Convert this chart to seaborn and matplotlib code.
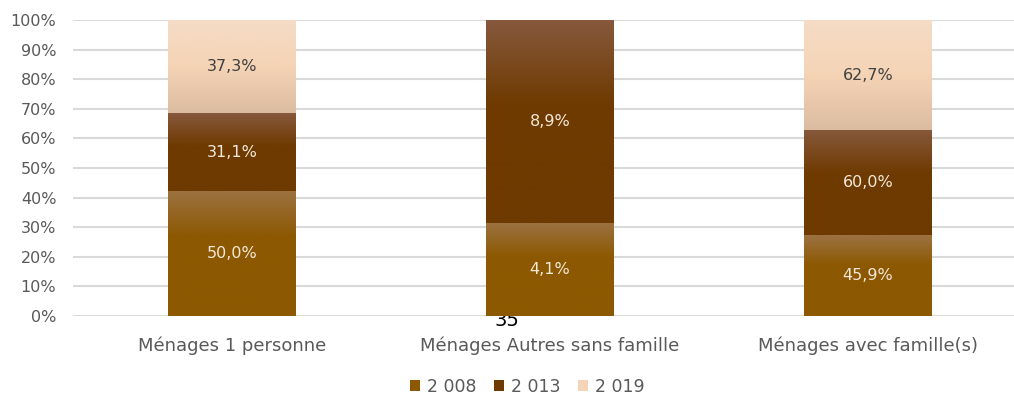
import numpy as np
import pandas as pd
import matplotlib
matplotlib.use("Agg")
import matplotlib.pyplot as plt
import seaborn as sns
from matplotlib.colors import LinearSegmentedColormap
from matplotlib.patches import Patch

#------------------------------- DATA ---------------------------------
categories = ["Ménages 1 personne", "Ménages Autres sans famille", "Ménages avec famille(s)"]
years = ["2 008", "2 013", "2 019"]
v2008 = [50.0, 4.1, 45.9]
v2013 = [31.1, 8.9, 60.0]
v2019 = [37.3, 0.0, 62.7]

df = pd.DataFrame({"cat": categories, "2 008": v2008, "2 013": v2013, "2 019": v2019})
totals = df[years].sum(axis=1)
shares = df[years].div(totals, axis=0) * 100

#------------------------------- STYLE --------------------------------
sns.set_style("white")
plt.rcParams["font.family"] = ["DejaVu Sans"]

base_cols = {"2 008": "#8c5800", "2 013": "#6e3a00", "2 019": "#f5d5b8"}
# gradient stops (top -> bottom) for each series
grads = {
    "2 008": [(0.0, "#9c7242"), (0.38, "#8c5800"), (1.0, "#8c5800")],
    "2 013": [(0.0, "#87593d"), (0.42, "#6e3a00"), (1.0, "#6e3a00")],
    "2 019": [(0.0, "#f5dcc6"), (0.5, "#f5d4b6"), (1.0, "#dcbca0")],
}
label_cols = {"2 008": "#f3e8da", "2 013": "#f3e8da", "2 019": "#404040"}

fig = plt.figure(figsize=(10.14, 3.96), dpi=100)
ax = fig.add_axes([73 / 1014, 1 - 316 / 396, 1 - 73 / 1014, (316 - 20) / 396])
ax.set_facecolor("white")

#------------------------------- BARS ---------------------------------
bottom = np.zeros(len(categories))
for yr in years:
    n_before = len(ax.patches)
    sns.barplot(x=df["cat"], y=shares[yr].values, bottom=bottom, color=base_cols[yr],
                width=0.4, ax=ax, zorder=3, linewidth=0)
    new_patches = ax.patches[n_before:]
    cmap = LinearSegmentedColormap.from_list(yr, grads[yr])
    grad = np.linspace(0, 1, 256).reshape(-1, 1)
    for p, val, sh in zip(new_patches, df[yr], shares[yr]):
        if sh <= 0:
            continue
        x0, y0 = p.get_x(), p.get_y()
        w, h = p.get_width(), p.get_height()
        im = ax.imshow(grad, cmap=cmap, aspect="auto", origin="upper",
                       extent=[x0, x0 + w, y0, y0 + h], zorder=4)
        im.set_clip_path(p)
        ax.text(x0 + w / 2, y0 + h / 2, f"{val:.1f}%".replace(".", ","),
                ha="center", va="center", fontsize=11.5, color=label_cols[yr], zorder=6)
    bottom = bottom + shares[yr].values

#------------------------------- AXES ---------------------------------
ax.set_xlim(-0.5, -0.5 + (1014 - 73) / 318)
ax.set_ylim(0, 100)
ax.set_yticks(range(0, 101, 10))
ax.set_yticklabels([f"{t}%" for t in range(0, 101, 10)])
ax.yaxis.grid(True, color="#d9d9d9", linewidth=1.5, zorder=0)
ax.set_axisbelow(True)
for s in ax.spines.values():
    s.set_visible(False)
ax.tick_params(axis="y", length=0, pad=12, labelsize=11.5, labelcolor="#595959")
ax.tick_params(axis="x", length=0, pad=15, labelsize=13, labelcolor="#595959")
ax.set_xlabel("")
ax.set_ylabel("")

# page number sitting behind the chart
fig.text(507 / 1014, 1 - 321 / 396, "35", fontsize=14, color="black",
         ha="center", va="center", zorder=-1)

handles = [Patch(facecolor=base_cols[yr], edgecolor="none") for yr in years]
fig.legend(handles, years, loc="center", bbox_to_anchor=(0.52, 1 - 387 / 396), ncol=3,
           frameon=False, fontsize=12.5, handlelength=0.6, handleheight=0.6,
           handletextpad=0.4, columnspacing=1.0, labelcolor="#595959")

fig.savefig("out.png", dpi=100)
